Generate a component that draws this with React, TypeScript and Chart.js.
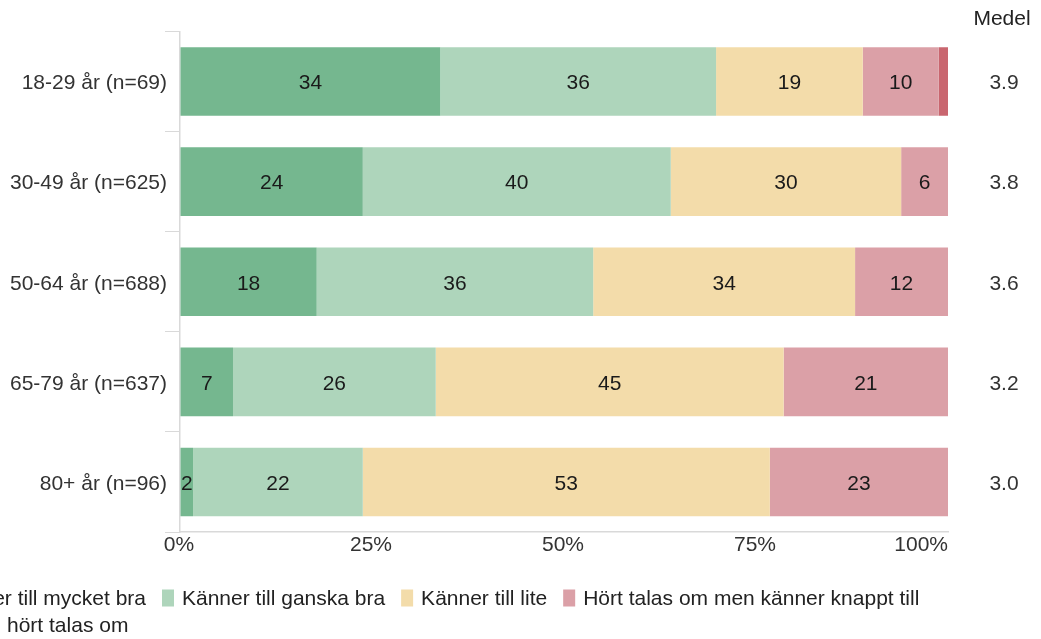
import { useEffect, useRef } from "react";
import { Chart, registerables } from "chart.js";
Chart.register(...registerables);

const FONT = "'Liberation Sans', Arial, sans-serif";

const categories = ["18-29 år (n=69)", "30-49 år (n=625)", "50-64 år (n=688)", "65-79 år (n=637)", "80+ år (n=96)"];
const seriesNames = [
  "Känner till mycket bra",
  "Känner till ganska bra",
  "Känner till lite",
  "Hört talas om men känner knappt till",
  "Aldrig hört talas om",
];
const seriesColors = ["#75b78f", "#aed5bb", "#f3dcaa", "#dba0a7", "#c9666f"];
const mycketBra = [33.9, 23.8, 17.8, 6.9, 1.7];
const ganskaBra = [35.9, 40.1, 36.0, 26.4, 22.1];
const lite = [19.1, 30.0, 34.1, 45.3, 53.0];
const hortTalas = [9.9, 6.1, 12.1, 21.4, 23.2];
const aldrig = [1.2, 0, 0, 0, 0];
const medel = ["3.9", "3.8", "3.6", "3.2", "3.0"];
const medelTitle = "Medel";
const xTickValues = [0, 25, 50, 75, 100];

const seriesValues = [mycketBra, ganskaBra, lite, hortTalas, aldrig];

const overlayPlugin = {
  id: "overlay",
  afterDraw(chart: any) {
    const ctx = chart.ctx as CanvasRenderingContext2D;
    const xs = chart.scales.x;
    const ys = chart.scales.y;
    const area = chart.chartArea;
    ctx.save();
    // data labels
    ctx.font = `21px ${FONT}`;
    ctx.fillStyle = "#1a1a1a";
    ctx.textAlign = "center";
    ctx.textBaseline = "middle";
    chart.data.datasets.forEach((ds: any, di: number) => {
      const meta = chart.getDatasetMeta(di);
      meta.data.forEach((el: any, i: number) => {
        const v = ds.data[i];
        if (Math.round(v) < 2) return;
        const cx = (el.x + el.base) / 2;
        ctx.fillText(String(Math.round(v)), cx, el.y + 2);
      });
    });
    // x tick labels
    ctx.fillStyle = "#333";
    xTickValues.forEach((v, i) => {
      const px = xs.getPixelForValue(v);
      const last = i === xTickValues.length - 1;
      ctx.textAlign = last ? "right" : "center";
      ctx.fillText(v + "%", last ? px : px - 1, area.bottom + 13);
    });
    // Medel column
    ctx.textAlign = "center";
    ctx.fillStyle = "#222";
    ctx.fillText(medelTitle, 1002, 19);
    ctx.fillStyle = "#333";
    medel.forEach((m, i) => {
      ctx.fillText(m, 1004, ys.getPixelForValue(i) + 2);
    });
    // legend
    ctx.textAlign = "left";
    const boxW = 12;
    const boxH = 17;
    const textGap = 20;
    const itemGap = 16;
    const row1 = [0, 1, 2, 3];
    const w0 = ctx.measureText(seriesNames[0]).width;
    let x = 162 - itemGap - w0 - textGap;
    const row1y = 598;
    row1.forEach((si) => {
      ctx.fillStyle = seriesColors[si];
      ctx.fillRect(x, row1y - boxH / 2, boxW, boxH);
      ctx.fillStyle = "#222";
      ctx.fillText(seriesNames[si], x + textGap, row1y + 1);
      x += textGap + ctx.measureText(seriesNames[si]).width + itemGap;
    });
    const row2y = 625;
    const wA = ctx.measureText("Aldrig ").width;
    const x2 = 7 - wA - textGap;
    ctx.fillStyle = seriesColors[4];
    ctx.fillRect(x2, row2y - boxH / 2, boxW, boxH);
    ctx.fillStyle = "#222";
    ctx.fillText(seriesNames[4], x2 + textGap, row2y + 1);
    ctx.restore();
  },
};

export default function App() {
  const ref = useRef<HTMLCanvasElement | null>(null);
  useEffect(() => {
    document.body.style.margin = "0";
    const canvas = ref.current!;
    const chart = new Chart(canvas, {
      type: "bar",
      data: {
        labels: categories,
        datasets: seriesNames.map((name, i) => ({
          label: name,
          data: seriesValues[i],
          backgroundColor: seriesColors[i],
          borderWidth: 0,
          barPercentage: 0.685,
          categoryPercentage: 1,
        })),
      },
      options: {
        indexAxis: "y",
        responsive: false,
        animation: false,
        devicePixelRatio: 1,
        layout: { padding: { top: 31.5, right: 93, left: 0, bottom: 0 } },
        plugins: { legend: { display: false }, tooltip: { enabled: false } },
        scales: {
          y: {
            stacked: true,
            grid: { display: true, drawOnChartArea: false, drawTicks: true, tickLength: 15, color: "#d9d9d9", offset: true },
            border: { display: true, color: "#d9d9d9", width: 1.5 },
            ticks: { font: { size: 21, family: FONT }, color: "#333", padding: -2, labelOffset: 2 },
            afterFit: (s: any) => {
              s.width = 180;
            },
          },
          x: {
            stacked: true,
            min: 0,
            max: 100,
            grid: { display: true, drawOnChartArea: false, drawTicks: false, color: "#d9d9d9" },
            border: { display: true, color: "#d9d9d9", width: 1.5 },
            ticks: { display: false, stepSize: 25 },
            afterFit: (s: any) => {
              s.height = 107;
            },
          },
        },
      } as any,
      plugins: [overlayPlugin],
    });
    return () => chart.destroy();
  }, []);
  return (
    <div style={{ width: 1041, height: 639, overflow: "hidden" }}>
      <canvas ref={ref} width={1041} height={639} style={{ display: "block" }} />
    </div>
  );
}
